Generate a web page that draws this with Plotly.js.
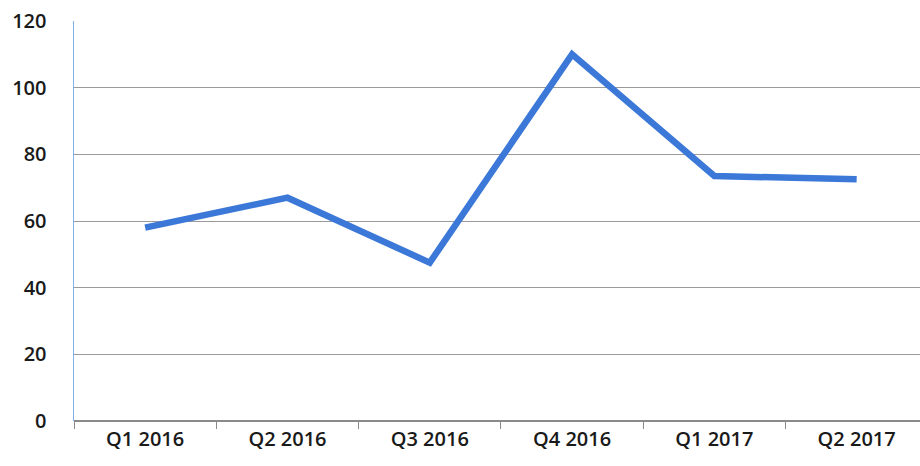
<!DOCTYPE html>
<html>
<head>
<meta charset="utf-8">
<script src="https://cdn.plot.ly/plotly-3.0.1.min.js"></script>
<style>html,body{margin:0;padding:0;background:#fff;}#chart{width:920px;height:466px;}</style>
</head>
<body>
<div id="chart"></div>
<script>
const categories = ["Q1 2016", "Q2 2016", "Q3 2016", "Q4 2016", "Q1 2017", "Q2 2017"];
const values = [58, 67, 47.5, 110, 73.5, 72.5];
const yTicks = [0, 20, 40, 60, 80, 100, 120];

const trace = {
  x: categories,
  y: values,
  type: "scatter",
  mode: "lines",
  line: {color: "#3b78d8", width: 6.5},
  hoverinfo: "skip"
};

const layout = {
  width: 920,
  height: 466,
  margin: {l: 74, r: 0, t: 21, b: 45},
  paper_bgcolor: "#ffffff",
  plot_bgcolor: "#ffffff",
  showlegend: false,
  font: {family: "Open Sans, Liberation Sans, sans-serif", size: 18, color: "#1a1a1a"},
  xaxis: {
    type: "category",
    range: [-0.5, 5.445],
    showgrid: false,
    zeroline: false,
    showline: false,
    ticks: "outside",
    ticklen: 7,
    tickcolor: "#8a8a8a",
    tickson: "boundaries",
    ticklabelstandoff: 4,
    tickfont: {size: 20, color: "#1a1a1a", weight: 600},
    fixedrange: true
  },
  yaxis: {
    range: [0, 120],
    tickvals: yTicks,
    showgrid: true,
    gridcolor: "#9a9a9a",
    gridwidth: 1,
    zeroline: true,
    zerolinecolor: "#8a8a8a",
    zerolinewidth: 1.5,
    showline: true,
    linecolor: "#7fb2e5",
    linewidth: 1.5,
    ticks: "",
    ticklabelstandoff: 22,
    tickfont: {size: 20, color: "#1a1a1a", weight: 600},
    fixedrange: true
  }
};

Plotly.newPlot("chart", [trace], layout, {displayModeBar: false, staticPlot: true});
</script>
</body>
</html>
